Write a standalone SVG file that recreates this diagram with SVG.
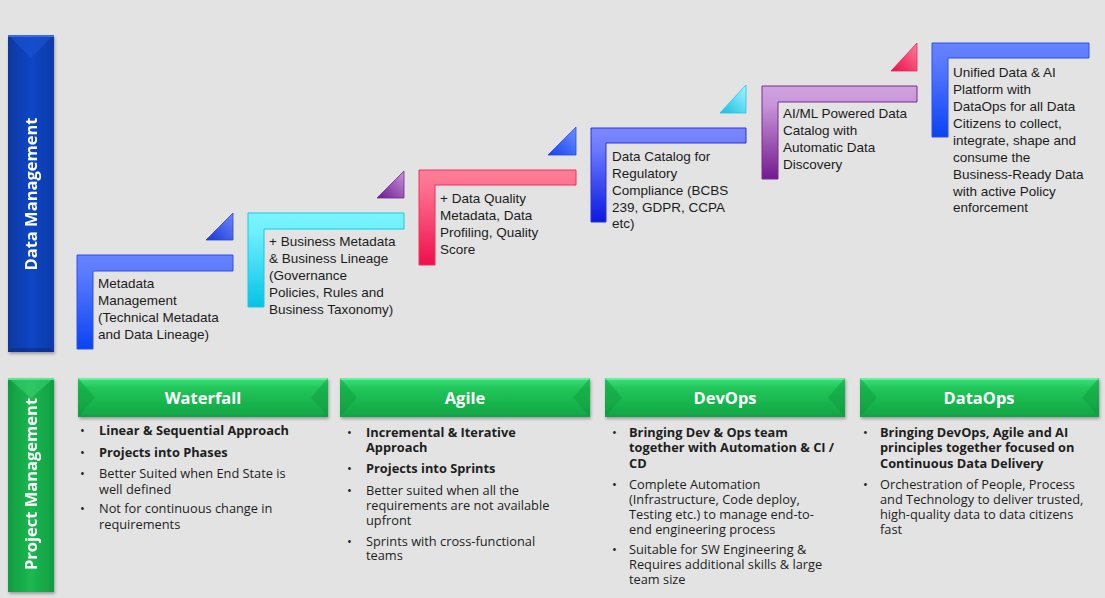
<svg xmlns="http://www.w3.org/2000/svg" width="1105" height="598" viewBox="0 0 1105 598">
  <defs>
    <style>
      .step { font-family: "Liberation Sans", Arial, sans-serif; font-size: 13.5px; fill: #1c1c1c; }
      .side { font-family: "Open Sans", "Liberation Sans", sans-serif; font-size: 16.5px; font-weight: 700; fill: #ffffff; }
      .head { font-family: "Open Sans", "Liberation Sans", sans-serif; font-size: 16.5px; font-weight: 700; fill: #ffffff; }
      .bul { font-family: "Open Sans", "Liberation Sans", sans-serif; font-size: 12.8px; fill: #1e1e1e; }
      .b { font-weight: 700; }
      .lstroke { stroke-width: 1; }
    </style>
    <!-- L-shaped step fills, light on top fading to saturated at the foot -->
    <linearGradient id="gBlue" x1="0" y1="0" x2="0" y2="1">
      <stop offset="0" stop-color="#6683ff"/>
      <stop offset="0.2" stop-color="#5a7bff"/>
      <stop offset="1" stop-color="#0a43f2"/>
    </linearGradient>
    <linearGradient id="gCyan" x1="0" y1="0" x2="0" y2="1">
      <stop offset="0" stop-color="#7cf4ff"/>
      <stop offset="0.2" stop-color="#6ff0ff"/>
      <stop offset="1" stop-color="#05c3e4"/>
    </linearGradient>
    <linearGradient id="gPink" x1="0" y1="0" x2="0" y2="1">
      <stop offset="0" stop-color="#ff7f98"/>
      <stop offset="0.2" stop-color="#ff6f8d"/>
      <stop offset="1" stop-color="#ee0f4c"/>
    </linearGradient>
    <linearGradient id="gIndigo" x1="0" y1="0" x2="0" y2="1">
      <stop offset="0" stop-color="#7d88ff"/>
      <stop offset="0.2" stop-color="#6e7dff"/>
      <stop offset="1" stop-color="#0a18de"/>
    </linearGradient>
    <linearGradient id="gPurple" x1="0" y1="0" x2="0" y2="1">
      <stop offset="0" stop-color="#d0a3df"/>
      <stop offset="0.2" stop-color="#c895da"/>
      <stop offset="1" stop-color="#721a8e"/>
    </linearGradient>
    <!-- corner triangles -->
    <linearGradient id="tBlue" x1="1" y1="0" x2="0" y2="1">
      <stop offset="0" stop-color="#6f88ff"/>
      <stop offset="1" stop-color="#1838d6"/>
    </linearGradient>
    <linearGradient id="tPurple" x1="1" y1="0" x2="0" y2="1">
      <stop offset="0" stop-color="#c994dc"/>
      <stop offset="1" stop-color="#6a1b8c"/>
    </linearGradient>
    <linearGradient id="tBlue2" x1="1" y1="0" x2="0" y2="1">
      <stop offset="0" stop-color="#6f90ff"/>
      <stop offset="1" stop-color="#1342f2"/>
    </linearGradient>
    <linearGradient id="tCyan" x1="1" y1="0" x2="0" y2="1">
      <stop offset="0" stop-color="#a6f6ff"/>
      <stop offset="1" stop-color="#12bedf"/>
    </linearGradient>
    <linearGradient id="tPink" x1="1" y1="0" x2="0" y2="1">
      <stop offset="0" stop-color="#ff7c98"/>
      <stop offset="1" stop-color="#e80f4b"/>
    </linearGradient>
    <!-- side bars -->
    <linearGradient id="gNavy" x1="0" y1="0" x2="1" y2="0">
      <stop offset="0" stop-color="#0b389f"/>
      <stop offset="0.5" stop-color="#0d46c6"/>
      <stop offset="1" stop-color="#0a3ba8"/>
    </linearGradient>
    <linearGradient id="gGreenBar" x1="0" y1="0" x2="1" y2="0">
      <stop offset="0" stop-color="#0f9c40"/>
      <stop offset="0.5" stop-color="#1cb851"/>
      <stop offset="1" stop-color="#0f9e42"/>
    </linearGradient>
    <linearGradient id="gHead" x1="0" y1="0" x2="0" y2="1">
      <stop offset="0" stop-color="#3fe07f"/>
      <stop offset="0.25" stop-color="#22c75a"/>
      <stop offset="1" stop-color="#10a443"/>
    </linearGradient>
    <filter id="shadow" x="-10%" y="-10%" width="130%" height="140%">
      <feDropShadow dx="1" dy="2" stdDeviation="1.5" flood-color="#000000" flood-opacity="0.3"/>
    </filter>
  </defs>

  <rect x="0" y="0" width="1105" height="598" fill="#e3e3e3"/>

  <!-- side bar: Data Management -->
  <g id="data-management" filter="url(#shadow)">
    <rect x="8" y="35" width="46" height="317" fill="url(#gNavy)"/>
    <polygon points="8,35 54,35 31,58" fill="#1c55d6" opacity="0.55"/>
    <rect x="8" y="35" width="46" height="2" fill="#3b6ae0"/>
    <polygon points="8,352 54,352 50,348 12,348" fill="#062a80" opacity="0.6"/>
    <text class="side" transform="translate(37,194) rotate(-90)" text-anchor="middle">Data Management</text>
  </g>

  <!-- side bar: Project Management -->
  <g id="project-management" filter="url(#shadow)">
    <rect x="8" y="378" width="46" height="214" fill="url(#gGreenBar)"/>
    <polygon points="8,378 54,378 31,398" fill="#3fd677" opacity="0.5"/>
    <rect x="8" y="378" width="46" height="2" fill="#55e88c"/>
    <text class="side" transform="translate(37,484) rotate(-90)" text-anchor="middle">Project Management</text>
  </g>

  <!-- data management maturity steps -->
  <g id="step-1">
    <path d="M77 255 H233 V271 H93 V349 H77 Z" fill="url(#gBlue)" stroke="#2f4ff2" class="lstroke"/>
    <polygon points="206,240 233,240 233,213" fill="url(#tBlue)" stroke="#2a44d8" stroke-width="0.8"/>
    <text class="step" x="98" y="288">Metadata</text>
    <text class="step" x="98" y="305">Management</text>
    <text class="step" x="98" y="322">(Technical Metadata</text>
    <text class="step" x="98" y="339">and Data Lineage)</text>
  </g>

  <g id="step-2">
    <path d="M248 213 H404 V229 H264 V307 H248 Z" fill="url(#gCyan)" stroke="#18c8e6" class="lstroke"/>
    <polygon points="377,198 404,198 404,171" fill="url(#tPurple)" stroke="#6e2590" stroke-width="0.8"/>
    <text class="step" x="269" y="246">+ Business Metadata</text>
    <text class="step" x="269" y="263">&amp; Business Lineage</text>
    <text class="step" x="269" y="280">(Governance</text>
    <text class="step" x="269" y="297">Policies, Rules and</text>
    <text class="step" x="269" y="314">Business Taxonomy)</text>
  </g>

  <g id="step-3">
    <path d="M419 170 H576 V185 H435 V265 H419 Z" fill="url(#gPink)" stroke="#f0305e" class="lstroke"/>
    <polygon points="548,155 576,155 576,127" fill="url(#tBlue2)" stroke="#2748ee" stroke-width="0.8"/>
    <text class="step" x="440" y="203">+ Data Quality</text>
    <text class="step" x="440" y="220">Metadata, Data</text>
    <text class="step" x="440" y="237">Profiling, Quality</text>
    <text class="step" x="440" y="254">Score</text>
  </g>

  <g id="step-4">
    <path d="M591 128 H746 V143 H606 V222 H591 Z" fill="url(#gIndigo)" stroke="#2a30e8" class="lstroke"/>
    <polygon points="720,113 746,113 746,85" fill="url(#tCyan)" stroke="#20c4e2" stroke-width="0.8"/>
    <text class="step" x="612" y="161">Data Catalog for</text>
    <text class="step" x="612" y="178">Regulatory</text>
    <text class="step" x="612" y="195">Compliance (BCBS</text>
    <text class="step" x="612" y="212">239, GDPR, CCPA</text>
    <text class="step" x="612" y="228">etc)</text>
  </g>

  <g id="step-5">
    <path d="M762 86 H917 V102 H778 V179 H762 Z" fill="url(#gPurple)" stroke="#7a2a94" class="lstroke"/>
    <polygon points="891,71 917,71 917,43" fill="url(#tPink)" stroke="#e8285c" stroke-width="0.8"/>
    <text class="step" x="783" y="118">AI/ML Powered Data</text>
    <text class="step" x="783" y="135">Catalog with</text>
    <text class="step" x="783" y="152">Automatic Data</text>
    <text class="step" x="783" y="169">Discovery</text>
  </g>

  <g id="step-6">
    <path d="M932 43 H1089 V58 H948 V137 H932 Z" fill="url(#gBlue)" stroke="#2f4ff2" class="lstroke"/>
    <text class="step" x="953" y="77">Unified Data &amp; AI</text>
    <text class="step" x="953" y="94">Platform with</text>
    <text class="step" x="953" y="111">DataOps for all Data</text>
    <text class="step" x="953" y="128">Citizens to collect,</text>
    <text class="step" x="953" y="145">integrate, shape and</text>
    <text class="step" x="953" y="162">consume the</text>
    <text class="step" x="953" y="179">Business-Ready Data</text>
    <text class="step" x="953" y="196">with active Policy</text>
    <text class="step" x="953" y="212">enforcement</text>
  </g>

  <!-- project management approaches -->
  <g id="waterfall">
    <g filter="url(#shadow)">
      <rect x="78" y="378" width="250" height="39" fill="url(#gHead)"/>
      <rect x="78" y="378" width="250" height="2" fill="#66f29c"/>
      <polygon points="78,378 95,397.5 78,417" fill="#0e9a3f" opacity="0.45"/>
      <polygon points="328,378 311,397.5 328,417" fill="#0e9a3f" opacity="0.45"/>
    </g>
    <text class="head" x="203" y="404" text-anchor="middle">Waterfall</text>
    <g class="bul">
      <text x="80" y="435">•</text><text class="b" x="99" y="435">Linear &amp; Sequential Approach</text>
      <text x="80" y="457">•</text><text class="b" x="99" y="457">Projects into Phases</text>
      <text x="80" y="478">•</text><text x="99" y="478">Better Suited when End State is</text>
      <text x="99" y="494">well defined</text>
      <text x="80" y="513">•</text><text x="99" y="513">Not for continuous change in</text>
      <text x="99" y="529">requirements</text>
    </g>
  </g>

  <g id="agile">
    <g filter="url(#shadow)">
      <rect x="340" y="378" width="250" height="39" fill="url(#gHead)"/>
      <rect x="340" y="378" width="250" height="2" fill="#66f29c"/>
      <polygon points="340,378 357,397.5 340,417" fill="#0e9a3f" opacity="0.45"/>
      <polygon points="590,378 573,397.5 590,417" fill="#0e9a3f" opacity="0.45"/>
    </g>
    <text class="head" x="465" y="404" text-anchor="middle">Agile</text>
    <g class="bul">
      <text x="347" y="437">•</text><text class="b" x="366" y="437">Incremental &amp; Iterative</text>
      <text class="b" x="366" y="452">Approach</text>
      <text x="347" y="473">•</text><text class="b" x="366" y="473">Projects into Sprints</text>
      <text x="347" y="495">•</text><text x="366" y="495">Better suited when all the</text>
      <text x="366" y="510">requirements are not available</text>
      <text x="366" y="525">upfront</text>
      <text x="347" y="546">•</text><text x="366" y="546">Sprints with cross-functional</text>
      <text x="366" y="560">teams</text>
    </g>
  </g>

  <g id="devops">
    <g filter="url(#shadow)">
      <rect x="605" y="378" width="240" height="39" fill="url(#gHead)"/>
      <rect x="605" y="378" width="240" height="2" fill="#66f29c"/>
      <polygon points="605,378 622,397.5 605,417" fill="#0e9a3f" opacity="0.45"/>
      <polygon points="845,378 828,397.5 845,417" fill="#0e9a3f" opacity="0.45"/>
    </g>
    <text class="head" x="725" y="404" text-anchor="middle">DevOps</text>
    <g class="bul">
      <text x="612" y="437">•</text><text class="b" x="629" y="437">Bringing Dev &amp; Ops team</text>
      <text class="b" x="629" y="452">together with Automation &amp; CI /</text>
      <text class="b" x="629" y="468">CD</text>
      <text x="612" y="489">•</text><text x="629" y="489">Complete Automation</text>
      <text x="629" y="504">(Infrastructure, Code deploy,</text>
      <text x="629" y="519">Testing etc.) to manage end-to-</text>
      <text x="629" y="534">end engineering process</text>
      <text x="612" y="554">•</text><text x="629" y="554">Suitable for SW Engineering &amp;</text>
      <text x="629" y="569">Requires additional skills &amp; large</text>
      <text x="629" y="584">team size</text>
    </g>
  </g>

  <g id="dataops">
    <g filter="url(#shadow)">
      <rect x="860" y="378" width="239" height="39" fill="url(#gHead)"/>
      <rect x="860" y="378" width="239" height="2" fill="#66f29c"/>
      <polygon points="860,378 877,397.5 860,417" fill="#0e9a3f" opacity="0.45"/>
      <polygon points="1099,378 1082,397.5 1099,417" fill="#0e9a3f" opacity="0.45"/>
    </g>
    <text class="head" x="979" y="404" text-anchor="middle">DataOps</text>
    <g class="bul">
      <text x="863" y="437">•</text><text class="b" x="880" y="437">Bringing DevOps, Agile and AI</text>
      <text class="b" x="880" y="452">principles together focused on</text>
      <text class="b" x="880" y="468">Continuous Data Delivery</text>
      <text x="863" y="489">•</text><text x="880" y="489">Orchestration of People, Process</text>
      <text x="880" y="504">and Technology to deliver trusted,</text>
      <text x="880" y="519">high-quality data to data citizens</text>
      <text x="880" y="534">fast</text>
    </g>
  </g>
</svg>
